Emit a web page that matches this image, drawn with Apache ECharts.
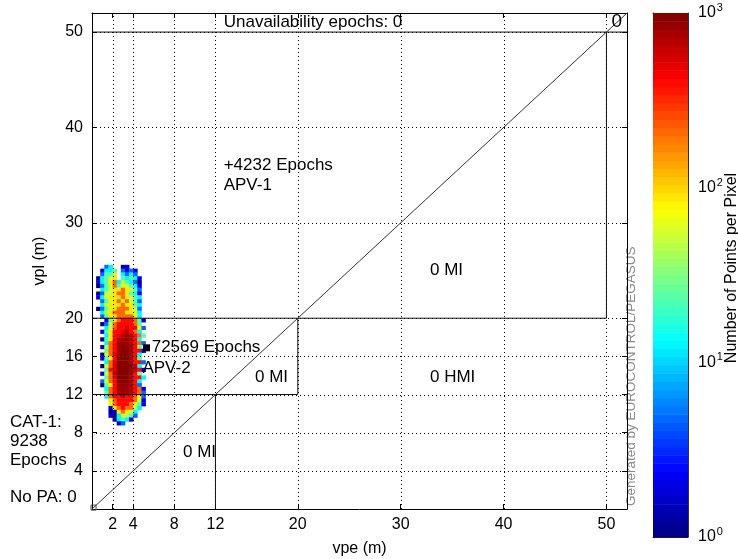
<!DOCTYPE html>
<html>
<head>
<meta charset="utf-8">
<script src="https://cdn.jsdelivr.net/npm/echarts@6/dist/echarts.min.js"></script>
<style>
  html, body { margin: 0; padding: 0; background: #fff; }
  #chart { width: 738px; height: 559px; }
</style>
</head>
<body>
<div id="chart"></div>
<script>
// Stanford diagram: vertical protection level (vpl) against vertical position error (vpe)

const vpeTicks = [2, 4, 8, 12, 20, 30, 40, 50];
const vplTicks = [4, 8, 12, 16, 20, 30, 40, 50];
const colorbarTicks = [1, 10, 100, 1000];

// 2-D histogram: bins of 0.4 m, columns start at vpe = 0.4 m, rows run downward from vpl = 25.6 m
const binSize = 0.4;
const vpeFirstBin = 0.4;
const vplTopEdge = 25.6;
const densityCounts = [
  [0, 0, 5, 12, 0, 0, 1, 2, 0, 0, 0, 0],
  [0, 2, 12, 12, 25, 0, 5, 2, 5, 2, 0, 0],
  [0, 5, 25, 25, 50, 0, 12, 5, 12, 5, 0, 0],
  [1, 12, 25, 50, 90, 0, 25, 12, 25, 12, 2, 0],
  [2, 12, 25, 90, 200, 12, 50, 25, 12, 5, 1, 0],
  [1, 5, 25, 50, 200, 25, 50, 50, 25, 12, 2, 0],
  [0, 12, 25, 50, 90, 90, 200, 90, 50, 25, 5, 0],
  [1, 5, 50, 50, 90, 200, 200, 90, 25, 12, 2, 0],
  [2, 12, 50, 90, 90, 90, 200, 90, 50, 25, 12, 0],
  [0, 5, 25, 50, 90, 200, 90, 200, 50, 25, 5, 0],
  [0, 12, 50, 90, 90, 90, 200, 90, 90, 25, 12, 0],
  [1, 5, 25, 50, 90, 200, 200, 200, 90, 50, 5, 0],
  [0, 12, 50, 90, 200, 200, 200, 90, 90, 50, 12, 0],
  [0, 5, 25, 90, 90, 200, 200, 200, 200, 90, 12, 0],
  [0, 0, 2, 25, 90, 200, 420, 420, 420, 200, 25, 2],
  [0, 1, 5, 50, 200, 420, 420, 420, 420, 200, 25, 0],
  [0, 0, 12, 50, 200, 420, 420, 500, 420, 420, 90, 5],
  [0, 2, 25, 90, 420, 420, 500, 700, 420, 200, 12, 0],
  [0, 0, 12, 90, 420, 500, 700, 800, 700, 420, 200, 25],
  [0, 1, 25, 90, 420, 700, 800, 850, 700, 420, 12, 0],
  [0, 0, 12, 200, 420, 800, 850, 800, 700, 420, 200, 5],
  [0, 2, 50, 200, 420, 800, 900, 850, 800, 420, 25, 0],
  [0, 0, 25, 200, 420, 800, 900, 900, 800, 420, 420, 2],
  [0, 1, 50, 200, 500, 850, 900, 900, 800, 420, 12, 0],
  [0, 2, 25, 90, 420, 850, 950, 900, 800, 420, 25, 0],
  [0, 0, 12, 200, 500, 900, 950, 950, 850, 420, 420, 5],
  [0, 1, 50, 200, 500, 900, 950, 950, 850, 700, 12, 0],
  [0, 0, 25, 420, 500, 900, 950, 950, 850, 700, 420, 2],
  [0, 2, 50, 200, 700, 900, 950, 900, 850, 420, 25, 0],
  [0, 0, 25, 200, 500, 900, 900, 900, 800, 420, 420, 12],
  [0, 5, 50, 200, 420, 850, 900, 900, 800, 420, 12, 0],
  [0, 1, 25, 90, 420, 800, 900, 850, 800, 420, 5, 0],
  [0, 0, 12, 200, 420, 800, 850, 850, 700, 420, 200, 2],
  [0, 0, 25, 200, 420, 700, 800, 800, 700, 420, 200, 5],
  [0, 0, 12, 200, 420, 420, 700, 420, 420, 200, 90, 5],
  [0, 0, 0, 90, 200, 420, 420, 420, 420, 200, 50, 2],
  [0, 0, 0, 50, 200, 420, 420, 420, 200, 90, 25, 2],
  [0, 0, 0, 2, 90, 200, 420, 200, 200, 50, 12, 0],
  [0, 0, 0, 1, 2, 90, 200, 90, 50, 12, 0, 0],
  [0, 0, 0, 2, 1, 12, 50, 50, 25, 5, 0, 0],
  [0, 0, 0, 0, 1, 12, 25, 12, 2, 0, 0, 0],
  [0, 0, 0, 0, 0, 2, 5, 0, 0, 0, 0, 0]
];

// Alert-limit zone boundaries and the vpe = vpl diagonal
const zoneEdges = [
  [[0, 50], [52, 50]],
  [[50, 20], [50, 50]],
  [[0, 20], [50, 20]],
  [[20, 12], [20, 20]],
  [[0, 12], [20, 12]],
  [[12, 0], [12, 12]]
];
const diagonal = [[0, 0], [52, 52]];

// Epoch tallies per zone
const apv2Epochs = 72569;
const apv1Epochs = 4232;
const cat1Epochs = 9238;
const noPaEpochs = 0;
const unavailabilityEpochs = 0;
const aboveLimitEpochs = 0;
const miZoneEpochs = [0, 0, 0];
const hmiEpochs = 0;

const FONT = '"Liberation Sans", Arial, Helvetica, sans-serif';

// MATLAB-style jet colormap with 64 steps, indexed by log10(count) over 10^0..10^3
function jet64(t) {
  const idx = Math.min(63, Math.max(0, Math.floor(t * 64)));
  const u = (idx + 0.5) / 64;
  const c = v => Math.round(255 * Math.min(1, Math.max(0, v)));
  const r = c(1.5 - Math.abs(4 * u - 3));
  const g = c(1.5 - Math.abs(4 * u - 2));
  const b = c(1.5 - Math.abs(4 * u - 1));
  return 'rgb(' + r + ',' + g + ',' + b + ')';
}
function countColor(n) {
  return jet64(Math.log10(n) / 3);
}

const cells = [];
densityCounts.forEach((row, i) => {
  row.forEach((n, j) => {
    if (n > 0) {
      cells.push([vpeFirstBin + j * binSize, vplTopEdge - (i + 1) * binSize, n]);
    }
  });
});

const colorSteps = [];
for (let k = 0; k < 64; k++) colorSteps.push([k]);

const chart = echarts.init(document.getElementById('chart'), null, { renderer: 'canvas' });

const tickStyle = { color: '#000', width: 1 };
const labelStyle = { color: '#000', fontSize: 16, fontFamily: FONT };

const option = {
  animation: false,
  backgroundColor: '#fff',
  grid: [
    { left: 92, top: 13, width: 535, height: 496, outerBoundsMode: 'none', containLabel: false },
    { left: 653, top: 13, width: 35, height: 524, outerBoundsMode: 'none', containLabel: false }
  ],
  xAxis: [
    {
      type: 'value', gridIndex: 0, min: 0, max: 52, position: 'bottom',
      axisLine: { show: true, onZero: false, lineStyle: tickStyle },
      axisTick: { show: true, inside: true, length: 5, customValues: vpeTicks, lineStyle: tickStyle },
      axisLabel: Object.assign({ customValues: vpeTicks, margin: 8 }, labelStyle),
      splitLine: { show: false },
      name: 'vpe (m)', nameLocation: 'middle', nameGap: 32,
      nameTextStyle: { color: '#000', fontSize: 16, fontFamily: FONT }
    },
    {
      type: 'value', gridIndex: 0, min: 0, max: 52, position: 'top',
      axisLine: { show: true, onZero: false, lineStyle: tickStyle },
      axisTick: { show: true, inside: true, length: 5, customValues: vpeTicks, lineStyle: tickStyle },
      axisLabel: { show: false },
      splitLine: { show: false }
    },
    {
      type: 'value', gridIndex: 1, min: 0, max: 1, position: 'bottom',
      axisLine: { show: true, onZero: false, lineStyle: { color: '#333' } },
      axisTick: { show: false }, axisLabel: { show: false }, splitLine: { show: false }
    },
    {
      type: 'value', gridIndex: 1, min: 0, max: 1, position: 'top',
      axisLine: { show: true, onZero: false, lineStyle: { color: '#333' } },
      axisTick: { show: false }, axisLabel: { show: false }, splitLine: { show: false }
    }
  ],
  yAxis: [
    {
      type: 'value', gridIndex: 0, min: 0, max: 52, position: 'left',
      axisLine: { show: true, onZero: false, lineStyle: tickStyle },
      axisTick: { show: true, inside: true, length: 5, customValues: vplTicks, lineStyle: tickStyle },
      axisLabel: Object.assign({ customValues: vplTicks, margin: 9 }, labelStyle),
      splitLine: { show: false },
      name: 'vpl (m)', nameLocation: 'middle', nameGap: 44, nameRotate: 90,
      nameTextStyle: { color: '#000', fontSize: 16, fontFamily: FONT }
    },
    {
      type: 'value', gridIndex: 0, min: 0, max: 52, position: 'right',
      axisLine: { show: true, onZero: false, lineStyle: tickStyle },
      axisTick: { show: true, inside: true, length: 5, customValues: vplTicks, lineStyle: tickStyle },
      axisLabel: { show: false },
      splitLine: { show: false }
    },
    {
      type: 'log', logBase: 10, gridIndex: 1, min: 1, max: 1000, position: 'right',
      axisLine: { show: true, onZero: false, lineStyle: { color: '#333' } },
      axisTick: { show: true, inside: true, length: 4, customValues: colorbarTicks, lineStyle: { color: '#222' } },
      axisLabel: {
        customValues: colorbarTicks,
        margin: 10,
        formatter: v => '{b|10}{s|' + Math.round(Math.log10(v)) + '}',
        rich: {
          b: { fontSize: 16, fontFamily: FONT, color: '#000' },
          s: { fontSize: 11, fontFamily: FONT, color: '#000', padding: [0, 0, 10, 1] }
        }
      },
      splitLine: { show: false }
    },
    {
      type: 'log', logBase: 10, gridIndex: 1, min: 1, max: 1000, position: 'left',
      axisLine: { show: true, onZero: false, lineStyle: { color: '#333' } },
      axisTick: { show: true, inside: true, length: 4, customValues: colorbarTicks, lineStyle: { color: '#222' } },
      axisLabel: { show: false },
      splitLine: { show: false }
    }
  ],
  series: [
    {
      // density cells
      type: 'custom', xAxisIndex: 0, yAxisIndex: 0, clip: true, silent: true, z: 1,
      data: cells,
      encode: { x: 0, y: 1 },
      renderItem: (params, api) => {
        const x0 = api.value(0), y0 = api.value(1);
        const p0 = api.coord([x0, y0 + binSize]);
        const p1 = api.coord([x0 + binSize, y0]);
        return {
          type: 'rect',
          shape: { x: p0[0], y: p0[1], width: p1[0] - p0[0] + 0.4, height: p1[1] - p0[1] + 0.4 },
          style: { fill: countColor(api.value(2)) }
        };
      }
    },
    {
      // dotted grid at vpe ticks
      type: 'custom', xAxisIndex: 0, yAxisIndex: 0, clip: true, silent: true, z: 2,
      data: vpeTicks.map(v => [v, 0]),
      encode: { x: 0, y: 1 },
      renderItem: (params, api) => {
        const a = api.coord([api.value(0), 0]);
        const b = api.coord([api.value(0), 52]);
        return {
          type: 'line',
          shape: { x1: Math.round(a[0]) + 0.5, y1: a[1], x2: Math.round(b[0]) + 0.5, y2: b[1] },
          style: { stroke: '#000', lineWidth: 1, lineDash: [1, 3] }
        };
      }
    },
    {
      // dotted grid at vpl ticks
      type: 'custom', xAxisIndex: 0, yAxisIndex: 0, clip: true, silent: true, z: 2,
      data: vplTicks.map(v => [0, v]),
      encode: { x: 0, y: 1 },
      renderItem: (params, api) => {
        const a = api.coord([0, api.value(1)]);
        const b = api.coord([52, api.value(1)]);
        return {
          type: 'line',
          shape: { x1: a[0], y1: Math.round(a[1]) + 0.5, x2: b[0], y2: Math.round(b[1]) + 0.5 },
          style: { stroke: '#000', lineWidth: 1, lineDash: [1, 3] }
        };
      }
    },
    ...zoneEdges.map(seg => ({
      type: 'line', xAxisIndex: 0, yAxisIndex: 0, data: seg, showSymbol: false,
      silent: true, z: 3, lineStyle: { color: '#111', width: 1 }
    })),
    {
      type: 'line', xAxisIndex: 0, yAxisIndex: 0, data: diagonal, showSymbol: false,
      silent: true, z: 3, lineStyle: { color: '#333', width: 1 }
    },
    {
      // origin marker and APV-2 marker
      type: 'scatter', xAxisIndex: 0, yAxisIndex: 0, silent: true, z: 4,
      itemStyle: { opacity: 1 },
      data: [
        { value: [0.15, 0.15], symbol: 'rect', symbolSize: 5, itemStyle: { color: 'transparent', borderColor: '#444', borderWidth: 1 } },
        { value: [5.3, 16.9], symbol: 'rect', symbolSize: 7, itemStyle: { color: '#000' } }
      ]
    },
    {
      // zone annotations
      type: 'scatter', xAxisIndex: 0, yAxisIndex: 0, silent: true, z: 5,
      symbolSize: 0,
      itemStyle: { opacity: 1 },
      label: {
        show: true, position: 'right', distance: 0, color: '#000', opacity: 1,
        fontSize: 17, fontFamily: FONT, lineHeight: 20, align: 'left', verticalAlign: 'middle'
      },
      data: [
        { value: [12.8, 51.05], label: { formatter: 'Unavailability epochs: ' + unavailabilityEpochs } },
        { value: [50.5, 51.05], label: { formatter: String(aboveLimitEpochs), fontSize: 19 } },
        { value: [12.8, 35.0], label: { formatter: '+' + apv1Epochs + ' Epochs\nAPV-1' } },
        { value: [32.85, 25.05], label: { formatter: miZoneEpochs[0] + ' MI' } },
        { value: [15.84, 13.84], label: { formatter: miZoneEpochs[1] + ' MI' } },
        { value: [32.85, 13.84], label: { formatter: hmiEpochs + ' HMI' } },
        { value: [8.84, 5.97], label: { formatter: miZoneEpochs[2] + ' MI' } },
        { value: [5.8, 16.9], label: { formatter: apv2Epochs + ' Epochs' } },
        { value: [4.9, 14.8], label: { formatter: 'APV-2' } }
      ]
    },
    {
      // colour scale bands
      type: 'custom', xAxisIndex: 2, yAxisIndex: 2, silent: true, z: 1,
      data: colorSteps,
      encode: { x: 0 },
      renderItem: (params, api) => {
        const k = api.value(0);
        const lo = Math.pow(10, 3 * k / 64);
        const hi = Math.pow(10, 3 * (k + 1) / 64);
        const p0 = api.coord([0, hi]);
        const p1 = api.coord([1, lo]);
        return {
          type: 'rect',
          shape: { x: p0[0], y: p0[1], width: p1[0] - p0[0], height: p1[1] - p0[1] + 0.5 },
          style: { fill: jet64((k + 0.5) / 64) }
        };
      }
    }
  ],
  graphic: [
    {
      type: 'text', left: 10, top: 413,
      style: { text: 'CAT-1:\n' + cat1Epochs + '\nEpochs', fontSize: 17, fontFamily: FONT, fill: '#000', lineHeight: 19 }
    },
    {
      type: 'text', left: 10, top: 489,
      style: { text: 'No PA: ' + noPaEpochs, fontSize: 17, fontFamily: FONT, fill: '#000' }
    },
    {
      type: 'text', x: 732, y: 268, rotation: Math.PI / 2,
      style: { text: 'Number of Points per Pixel', fontSize: 16, fontFamily: FONT, fill: '#000', align: 'center', verticalAlign: 'middle' }
    },
    {
      type: 'text', x: 638, y: 506, rotation: Math.PI / 2,
      style: { text: 'Generated by EUROCONTROL/PEGASUS', fontSize: 13.5, fontFamily: FONT, fill: '#8a8a8a', align: 'left', verticalAlign: 'bottom' }
    }
  ]
};

chart.setOption(option);
</script>
</body>
</html>
